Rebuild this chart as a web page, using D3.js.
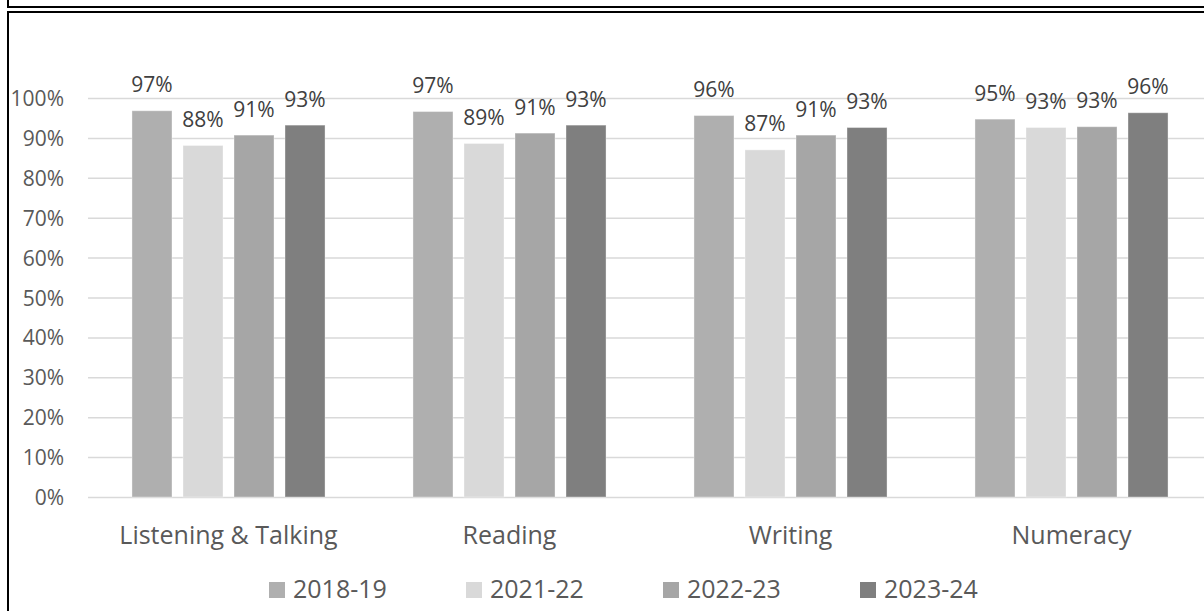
<!DOCTYPE html>
<html>
<head>
<meta charset="utf-8">
<script src="https://cdn.jsdelivr.net/npm/d3@7"></script>
<style>
  html, body { margin: 0; padding: 0; background: #fff; }
  svg { display: block; font-family: "Open Sans", Lato, sans-serif; }
</style>
</head>
<body>
<svg id="chart" width="1204" height="611"></svg>
<script>
// Share of pupils achieving expected levels, by curriculum area and school year
const categories = ["Listening & Talking", "Reading", "Writing", "Numeracy"];
const seriesNames = ["2018-19", "2021-22", "2022-23", "2023-24"];
const values2018 = [0.968, 0.966, 0.956, 0.947];
const values2021 = [0.881, 0.886, 0.870, 0.926];
const values2022 = [0.907, 0.912, 0.907, 0.928];
const values2023 = [0.932, 0.932, 0.926, 0.963];
const seriesColors = ["#afafaf", "#d9d9d9", "#a6a6a6", "#7f7f7f"];
const yTicks = [0, 0.1, 0.2, 0.3, 0.4, 0.5, 0.6, 0.7, 0.8, 0.9, 1.0];

const seriesValues = [values2018, values2021, values2022, values2023];
const rows = categories.map((c, i) => ({
  category: c,
  bars: seriesNames.map((s, j) => ({ series: s, value: seriesValues[j][i], color: seriesColors[j] }))
}));

const svg = d3.select("#chart");
const textColor = "#595959";
const fontFamily = "'Open Sans', Lato, sans-serif";

// frame lines of the surrounding boxes
const frame = svg.append("g").attr("stroke", "#000").attr("stroke-width", 2).attr("fill", "none");
frame.append("path").attr("d", "M8,0 V7 H1204");
frame.append("path").attr("d", "M1204,12 H8 V611");

const plot = { left: 88, right: 1212, top: 98, bottom: 497 };

const y = d3.scaleLinear().domain([0, 1]).range([plot.bottom, plot.top]);
const x0 = d3.scaleBand().domain(categories).range([plot.left, plot.right])
  .paddingInner(0.313).paddingOuter(0.1565);
const x1 = d3.scaleBand().domain(seriesNames).range([0, x0.bandwidth()])
  .paddingInner(0.2157).paddingOuter(0);

// horizontal gridlines
svg.append("g")
  .attr("transform", `translate(${plot.left},0)`)
  .call(d3.axisLeft(y).tickValues(yTicks).tickSize(-(plot.right - plot.left)).tickFormat(""))
  .call(g => g.select(".domain").remove())
  .call(g => g.selectAll(".tick line").attr("stroke", "#d9d9d9").attr("stroke-width", 1.5));

// y tick labels
svg.append("g")
  .attr("transform", "translate(64,0)")
  .call(d3.axisLeft(y).tickValues(yTicks).tickSize(0).tickPadding(0).tickFormat(d3.format(".0%")))
  .call(g => g.select(".domain").remove())
  .call(g => g.selectAll(".tick text")
    .attr("fill", textColor).attr("font-size", 21).attr("font-family", fontFamily)
    .attr("dy", "0.36em"));

// bars
const groups = svg.append("g").selectAll("g")
  .data(rows).join("g")
  .attr("transform", d => `translate(${x0(d.category)},0)`);

groups.selectAll("rect")
  .data(d => d.bars).join("rect")
  .attr("x", d => x1(d.series))
  .attr("y", d => y(d.value))
  .attr("width", x1.bandwidth())
  .attr("height", d => y(0) - y(d.value))
  .attr("fill", d => d.color)
  .attr("stroke", "rgba(255,255,255,0.35)")
  .attr("stroke-width", 1);

// value labels
groups.selectAll("text")
  .data(d => d.bars).join("text")
  .attr("x", d => x1(d.series) + x1.bandwidth() / 2)
  .attr("y", d => y(d.value) - 18.5)
  .attr("text-anchor", "middle")
  .attr("font-size", 21)
  .attr("fill", "#404040")
  .text(d => d3.format(".0%")(d.value));

// category labels
svg.append("g").selectAll("text")
  .data(categories).join("text")
  .attr("x", d => x0(d) + x0.bandwidth() / 2)
  .attr("y", 544)
  .attr("text-anchor", "middle")
  .attr("font-size", 25)
  .attr("fill", textColor)
  .text(d => d);

// legend
const legendX = d3.scalePoint().domain(seriesNames).range([269, 860]);
const legend = svg.append("g").selectAll("g")
  .data(seriesNames).join("g")
  .attr("transform", d => `translate(${legendX(d)},0)`);
legend.append("rect")
  .attr("x", 0).attr("y", 582).attr("width", 16).attr("height", 16)
  .attr("fill", (d, i) => seriesColors[i]);
legend.append("text")
  .attr("x", 24).attr("y", 598)
  .attr("font-size", 25)
  .attr("fill", textColor)
  .text(d => d);
</script>
</body>
</html>
